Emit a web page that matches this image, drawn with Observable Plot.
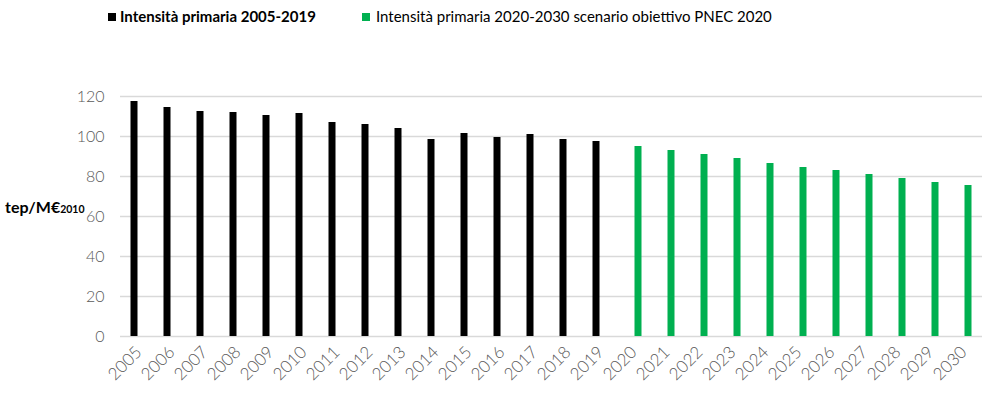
<!DOCTYPE html>
<html>
<head>
<meta charset="utf-8">
<script src="https://cdn.jsdelivr.net/npm/d3@7"></script>
<script src="https://cdn.jsdelivr.net/npm/@observablehq/plot@0.6"></script>
<style>
  body { margin: 0; background: #fff; }
  #wrap { position: relative; width: 1004px; height: 406px; overflow: hidden; }
  #legend { position: relative; width: 1004px; height: 36px; font-family: Lato, "Open Sans", sans-serif; font-size: 15px; }
  .sw { position: absolute; top: 13px; width: 8px; height: 8px; }
  .lt { position: absolute; top: 8px; line-height: 16px; white-space: nowrap; }
</style>
</head>
<body>
<div id="wrap">
  <div id="legend"></div>
  <div id="chart"></div>
</div>
<script>
const years = ["2005","2006","2007","2008","2009","2010","2011","2012","2013","2014","2015","2016","2017","2018","2019","2020","2021","2022","2023","2024","2025","2026","2027","2028","2029","2030"];
const histYears = ["2005","2006","2007","2008","2009","2010","2011","2012","2013","2014","2015","2016","2017","2018","2019"];
const histValues = [117.5,114.5,112.5,112,110.5,111.5,107,106,104,98.5,101.5,99.5,101,98.5,97.5];
const pnecYears = ["2020","2021","2022","2023","2024","2025","2026","2027","2028","2029","2030"];
const pnecValues = [95,93,91,89,86.5,84.5,83,81,79,77,75.5];
const yTicks = [0,20,40,60,80,100,120];
const seriesNames = ["Intensità primaria 2005-2019","Intensità primaria 2020-2030 scenario obiettivo PNEC 2020"];
const seriesColors = ["#000000","#00B050"];

const hist = histYears.map((y,i)=>({year:y, value:histValues[i]}));
const pnec = pnecYears.map((y,i)=>({year:y, value:pnecValues[i]}));

// legend
const legend = document.getElementById("legend");
const legendPos = [{sq:108, tx:120, weight:700},{sq:362, tx:376, weight:400}];
seriesNames.forEach((name,i)=>{
  const s = document.createElement("div");
  s.className = "sw"; s.style.left = legendPos[i].sq+"px"; s.style.background = seriesColors[i];
  legend.appendChild(s);
  const t = document.createElement("div");
  t.className = "lt"; t.style.left = legendPos[i].tx+"px"; t.style.fontWeight = legendPos[i].weight;
  t.textContent = name;
  legend.appendChild(t);
});

const axisFont = "Lato, 'Open Sans', sans-serif";
const chart = Plot.plot({
  width: 1004,
  height: 370,
  marginLeft: 120,
  marginRight: 22,
  marginTop: 60,
  marginBottom: 70,
  style: {fontFamily: axisFont, background: "#fff"},
  x: {type: "band", domain: years, paddingInner: 0.774, paddingOuter: 0.387, label: null},
  y: {domain: [0,120], label: null},
  marks: [
    Plot.gridY(yTicks, {stroke: "#d9d9d9", strokeOpacity: 1, strokeWidth: 1.3}),
    Plot.barY(hist, {x: "year", y: "value", fill: seriesColors[0], dx: -4.5}),
    Plot.barY(pnec, {x: "year", y: "value", fill: seriesColors[1], dx: 4.5}),
    Plot.axisY(yTicks, {tickSize: 0, tickPadding: 16, fontSize: 16, fill: "#595959", fontWeight: 300, label: null}),
    Plot.axisX({tickSize: 0, tickRotate: -45, tickPadding: 13, fontSize: 17, fill: "#595959", fontWeight: 300, label: null})
  ]
});
document.getElementById("chart").appendChild(chart);

// y-axis title with subscript-like year
const svg = d3.select(chart);
const t = svg.append("text")
  .attr("x", 5).attr("y", 177)
  .attr("text-anchor", "start")
  .attr("font-family", axisFont)
  .attr("font-weight", 700)
  .attr("font-size", 16)
  .attr("fill", "#000");
t.append("tspan").text("tep/M€");
t.append("tspan").attr("font-size", 10.5).text("2010");
</script>
</body>
</html>
